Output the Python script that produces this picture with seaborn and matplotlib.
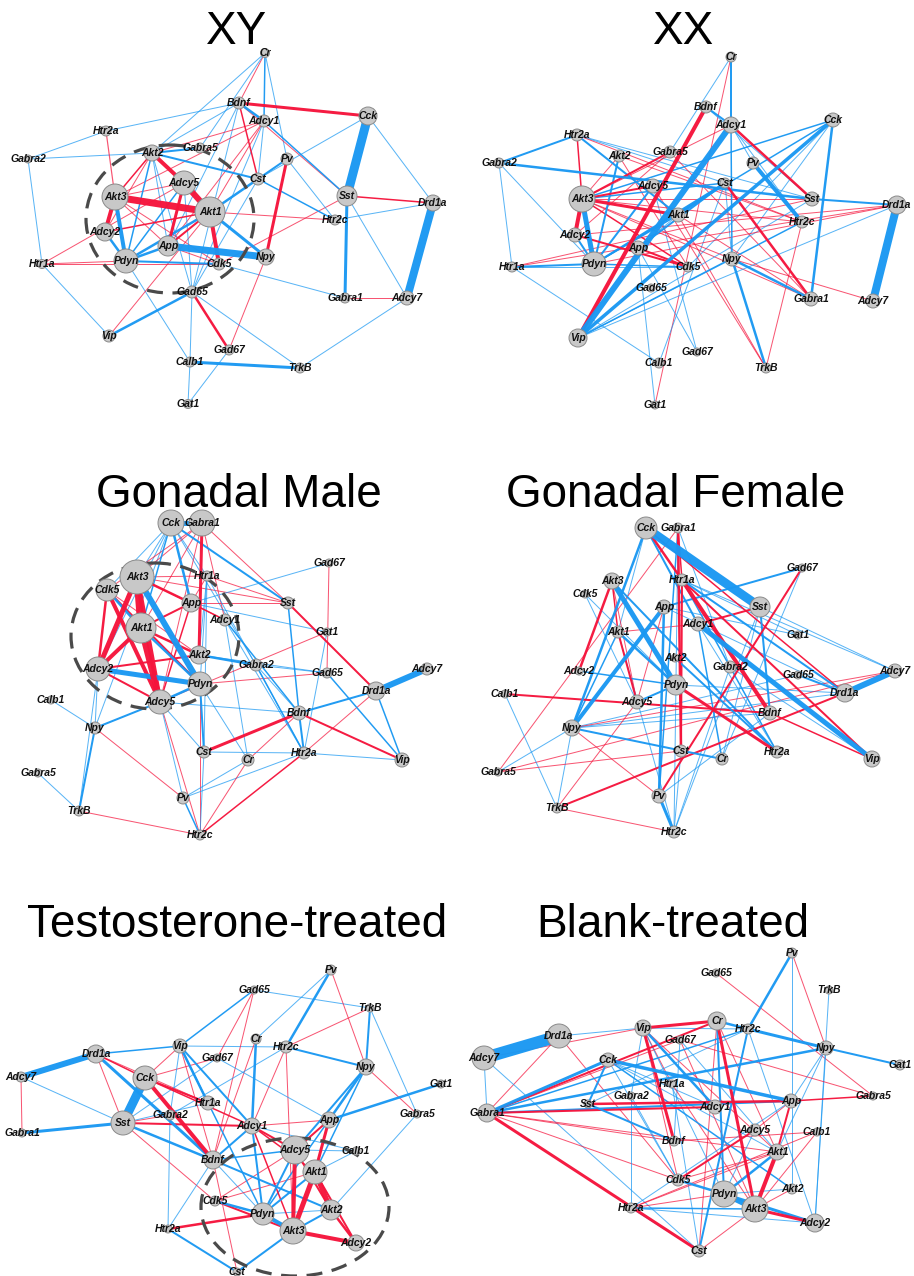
import numpy as np
import pandas as pd
import matplotlib
matplotlib.use("Agg")
import matplotlib.pyplot as plt
import seaborn as sns
from matplotlib.collections import LineCollection
from matplotlib.patches import Ellipse

sns.set_theme(style="white")
plt.rcParams['font.family'] = ['Liberation Sans', 'DejaVu Sans']

# ---------------- data ----------------
GENES = ["Cr", "Bdnf", "Adcy1", "Cck", "Htr2a", "Gabra2", "Akt2", "Gabra5", "Pv", "Adcy5",
         "Cst", "Sst", "Drd1a", "Akt3", "Akt1", "Htr2c", "Adcy2", "App", "Npy", "Htr1a",
         "Pdyn", "Cdk5", "Gad65", "Gabra1", "Adcy7", "Vip", "Gad67", "Calb1", "TrkB", "Gat1"]

TITLES = ["XY", "XX", "Gonadal Male", "Gonadal Female", "Testosterone-treated", "Blank-treated"]

# layout coordinates (pixels) and hub score (node radius) per network
XY_X = [265, 239, 264, 368, 106, 28, 152, 200, 287, 184, 258, 347, 433, 115, 210, 335, 105, 168, 266, 42, 126, 219, 192, 345, 407, 109, 229, 190, 300, 188]
XY_Y = [53, 103, 121, 116, 131, 159, 153, 148, 159, 183, 179, 196, 203, 197, 212, 220, 232, 246, 257, 264, 261, 264, 292, 298, 298, 336, 350, 362, 368, 404]
XY_HUB = [4.5, 6, 6, 9, 5, 4, 8, 5, 6, 12, 6, 10, 8, 13, 15, 5, 9, 10, 8, 4.5, 12, 6, 6, 5, 7, 6, 5, 5, 5, 4.5]

XX_X = [731, 706, 731, 833, 577, 499, 619, 670, 753, 653, 725, 812, 897, 582, 678, 802, 575, 638, 732, 512, 594, 688, 651, 811, 873, 578, 697, 659, 766, 655]
XX_Y = [57, 107, 125, 120, 135, 163, 156, 152, 163, 186, 183, 199, 205, 199, 215, 222, 235, 248, 259, 267, 264, 267, 288, 299, 301, 338, 352, 363, 368, 405]
XX_HUB = [5, 6, 8, 7, 6, 5, 6, 6, 6, 7, 5, 7, 9, 13, 7, 6, 7, 7, 7, 5, 12, 5, 4, 7, 7, 9, 4, 5, 5, 4]

GM_X = [248, 299, 225, 171, 304, 256, 199, 38, 183, 160, 204, 288, 376, 137, 141, 200, 98, 191, 95, 207, 200, 107, 327, 202, 427, 402, 329, 51, 79, 327]
GM_Y = [760, 713, 620, 523, 753, 665, 655, 773, 798, 702, 752, 603, 691, 577, 628, 835, 669, 603, 728, 576, 684, 590, 673, 523, 669, 760, 563, 700, 811, 632]
GM_HUB = [6, 7, 6, 13, 6, 6, 9, 4, 6, 12, 6, 6, 9, 17, 15, 5, 12, 9, 6, 5, 12, 11, 5, 13, 6, 7, 4, 4, 5, 4]

GF_X = [722, 770, 698, 646, 777, 730, 675, 498, 659, 637, 681, 760, 845, 612, 618, 674, 579, 664, 572, 682, 676, 585, 798, 678, 895, 872, 802, 505, 557, 798]
GF_Y = [759, 713, 624, 528, 752, 667, 658, 772, 796, 702, 751, 607, 693, 581, 632, 832, 671, 607, 728, 580, 685, 594, 675, 528, 671, 759, 568, 694, 808, 635]
GF_HUB = [6, 7, 7, 11, 6, 6, 4, 4, 7, 7, 6, 10, 9, 8, 6, 6, 4, 7, 8, 6, 10, 4, 4, 5, 7, 8, 4, 4, 5, 4]

TT_X = [256, 213, 252, 145, 168, 170, 331, 417, 331, 295, 237, 123, 96, 293, 315, 286, 356, 329, 366, 208, 263, 215, 254, 22, 21, 180, 217, 356, 370, 441]
TT_Y = [1039, 1160, 1126, 1078, 1229, 1115, 1210, 1114, 970, 1150, 1272, 1123, 1054, 1231, 1172, 1047, 1243, 1120, 1067, 1103, 1214, 1201, 990, 1133, 1077, 1046, 1058, 1151, 1008, 1084]
TT_HUB = [5, 9, 8, 12, 4, 5, 10, 4, 5, 14, 4, 12, 9, 13, 12, 6, 8, 8, 8, 7, 11, 5, 4, 4, 5, 7, 4, 4, 4, 4]

BT_X = [717, 674, 715, 608, 631, 631, 792, 873, 792, 755, 699, 588, 559, 755, 777, 748, 815, 791, 826, 672, 724, 678, 716, 487, 484, 643, 680, 817, 829, 900]
BT_Y = [1021, 1141, 1107, 1060, 1208, 1096, 1189, 1096, 953, 1130, 1251, 1104, 1036, 1209, 1152, 1029, 1223, 1101, 1048, 1084, 1194, 1180, 973, 1113, 1058, 1028, 1040, 1132, 990, 1065]
BT_HUB = [9, 5, 7, 7, 5, 4, 5, 4, 5, 6, 6, 4, 12, 13, 8, 5, 9, 7, 7, 4, 13, 6, 4, 9, 12, 8, 4, 4, 4, 5]

# edges: (gene a, gene b, signed strength); >0 red, <0 blue
XY_EDGES = [
    ("Cr", "Bdnf", 1), ("Cr", "Adcy1", -1.5), ("Cr", "Pv", -1), ("Cr", "Akt2", -1), ("Cr", "Gabra5", -1),
    ("Bdnf", "Cck", 3), ("Bdnf", "Htr2a", -1), ("Bdnf", "Adcy1", -2.5), ("Bdnf", "Cst", 1.5), ("Bdnf", "Akt2", -1),
    ("Bdnf", "Gad65", -1), ("Bdnf", "App", -1), ("Bdnf", "Sst", 1),
    ("Adcy1", "Akt2", 1), ("Adcy1", "Akt3", 1), ("Adcy1", "Akt1", 1), ("Adcy1", "App", 1), ("Adcy1", "Sst", -1.5),
    ("Adcy1", "Cst", -1), ("Adcy1", "Gad65", -1),
    ("Cck", "Sst", -9), ("Cck", "Drd1a", -1), ("Cck", "Cst", -1),
    ("Sst", "Drd1a", 1.5), ("Sst", "Gabra1", -3), ("Sst", "Adcy7", -1), ("Sst", "Cdk5", 1),
    ("Drd1a", "Adcy7", -8), ("Drd1a", "Htr2c", -1), ("Gabra1", "Adcy7", 1), ("Adcy7", "TrkB", -1),
    ("Htr2a", "Gabra2", -1), ("Htr2a", "Akt3", 1.2), ("Gabra2", "Akt2", -1), ("Gabra2", "Htr1a", -1),
    ("Akt2", "Adcy5", 4), ("Akt2", "Akt3", 1.5), ("Akt2", "Adcy2", 1), ("Akt2", "Cst", -2), ("Akt2", "App", -1),
    ("Akt2", "Gabra5", -2),
    ("Adcy5", "Akt1", 6), ("Adcy5", "App", 3), ("Adcy5", "Pdyn", -1.5), ("Adcy5", "Akt3", 1),
    ("Akt3", "Akt1", 7), ("Akt3", "Adcy2", 4), ("Akt3", "Pdyn", -4), ("Akt3", "Cdk5", 1), ("Akt3", "App", 1),
    ("Akt1", "Cdk5", 4), ("Akt1", "Npy", -3), ("Akt1", "Pdyn", -2.5), ("Akt1", "App", 2), ("Akt1", "Htr2c", 1),
    ("Akt1", "Adcy2", 1.5),
    ("App", "Npy", -7), ("App", "Pdyn", -2.5), ("Pdyn", "Cdk5", -2), ("Pdyn", "Adcy2", -2.5), ("Htr1a", "Pdyn", 1),
    ("Htr1a", "Adcy5", 1), ("Htr1a", "Cdk5", 1), ("Pdyn", "Calb1", -1), ("Pv", "Npy", 3), ("Pv", "Cst", -2),
    ("Pv", "Htr2c", -1), ("Cst", "Htr2c", -1.5), ("Cst", "Akt1", -2.5), ("Cst", "Gad65", -1), ("Cdk5", "Gabra1", -1),
    ("Npy", "Gad67", 1), ("Gad65", "Vip", -2.5), ("Gad65", "Gad67", 2.5), ("Gad65", "Calb1", -1), ("Gad65", "TrkB", -1),
    ("Vip", "Htr1a", -1), ("Vip", "Akt1", 1), ("Calb1", "TrkB", -3), ("Calb1", "Gat1", -1), ("Gat1", "Gad67", -1),
    ("Gad65", "Akt2", -1), ("Gad65", "Adcy5", -1), ("App", "Cdk5", 1), ("Pdyn", "Akt2", -1.5),
]

XX_EDGES = [
    ("Cr", "Adcy1", -2), ("Cr", "Gabra5", -1), ("Cr", "Gat1", 1), ("Bdnf", "Vip", 4), ("Bdnf", "Adcy1", -2),
    ("Adcy1", "Akt3", 1), ("Adcy1", "Vip", -6), ("Adcy1", "Sst", 2.5), ("Adcy1", "Npy", -1.5), ("Adcy1", "Htr2c", -1),
    ("Bdnf", "Sst", -1),
    ("Cck", "Akt3", -1.5), ("Cck", "Vip", -3.5), ("Cck", "Gabra1", -2.5), ("Cck", "Npy", -1), ("Cck", "Cdk5", -1),
    ("Cck", "Pdyn", -1.5),
    ("Htr2a", "Gabra2", -2), ("Htr2a", "Akt3", 1.5), ("Htr2a", "Cst", -1), ("Htr2a", "Akt1", -2), ("Htr2a", "Htr2c", 1),
    ("Htr2a", "Sst", -1),
    ("Gabra2", "Sst", -2.5), ("Gabra2", "Htr1a", -1), ("Gabra2", "Pdyn", -1),
    ("Akt2", "Pdyn", -2), ("Akt2", "Cdk5", 1), ("Akt2", "Htr2c", 1), ("Akt2", "Akt3", 1),
    ("Gabra5", "Akt3", 2), ("Gabra5", "Gabra1", 1), ("Gabra5", "Adcy2", 1),
    ("Pv", "Htr2c", -4), ("Pv", "Adcy1", -1),
    ("Cst", "Pdyn", -2), ("Cst", "Gabra1", 2.5), ("Cst", "App", -2), ("Cst", "Npy", -1), ("Cst", "Calb1", -1),
    ("Cst", "Akt3", -1.5),
    ("Adcy5", "Akt3", 2), ("Adcy5", "Pdyn", -2), ("Adcy5", "Gad67", -1), ("Adcy5", "TrkB", 1),
    ("Akt3", "Akt1", 3), ("Akt3", "Adcy2", 4), ("Akt3", "Pdyn", -5), ("Akt3", "Sst", 1), ("Akt3", "Htr2c", 1),
    ("Akt3", "Cdk5", 1.5), ("Akt3", "Npy", 1), ("Akt3", "Gabra1", 1),
    ("Adcy2", "Pdyn", -2), ("Adcy2", "Cdk5", 2), ("Adcy2", "Drd1a", 1),
    ("Htr1a", "Drd1a", 1), ("Htr1a", "Pdyn", -2), ("Htr1a", "Cdk5", -1), ("Htr1a", "Calb1", -1), ("Htr1a", "Sst", 1),
    ("App", "Cdk5", 2), ("App", "Gad67", -1), ("App", "Gat1", -1), ("App", "Akt1", -1),
    ("Npy", "TrkB", -2.5), ("Npy", "Gabra1", -2.5), ("Npy", "Adcy7", 1),
    ("Vip", "Drd1a", -1), ("Vip", "Htr2c", -1.5), ("Vip", "Npy", -1), ("Vip", "Sst", -1),
    ("Htr2c", "TrkB", 1), ("Drd1a", "Adcy7", -8), ("Sst", "Drd1a", -2), ("Akt1", "TrkB", 1), ("Akt1", "Gabra1", 1),
    ("Pdyn", "Cdk5", -1.5), ("Pdyn", "Drd1a", 1), ("Akt1", "Pdyn", -1.5), ("Akt1", "Cst", -2.5),
]

GM_EDGES = [
    ("Cck", "Gabra1", -5), ("Cck", "Sst", -2), ("Cck", "App", -2.5), ("Cck", "Akt3", -1), ("Cck", "Cdk5", -1),
    ("Cck", "Adcy2", -1), ("Cck", "Akt1", -1.5), ("Cck", "Htr1a", -1), ("Cck", "Gabra2", -1), ("Cck", "Npy", -1),
    ("Gabra1", "Akt2", 3), ("Gabra1", "Sst", 1), ("Gabra1", "Akt3", 1), ("Gabra1", "Adcy1", 1), ("Gabra1", "Akt1", 1),
    ("Gabra1", "Cdk5", 1), ("Gabra1", "Adcy5", 1),
    ("Akt3", "Akt1", 7), ("Akt3", "Adcy2", 5), ("Akt3", "Pdyn", -6), ("Akt3", "Adcy5", 5), ("Akt3", "App", 2.5),
    ("Akt3", "Htr1a", 1), ("Akt3", "Sst", 1), ("Akt3", "Adcy1", 1),
    ("Cdk5", "Adcy2", 2.5), ("Cdk5", "Akt1", -2.5), ("Cdk5", "Adcy5", 4), ("Cdk5", "Pdyn", 2), ("Cdk5", "Akt2", 1),
    ("Akt1", "Adcy5", 6), ("Akt1", "Adcy2", 4), ("Akt1", "Pdyn", -2.5), ("Akt1", "Akt2", 2.5), ("Akt1", "App", 2),
    ("Adcy2", "Pdyn", -5), ("Adcy2", "Akt2", 2), ("Adcy2", "Adcy5", 2), ("Adcy2", "Npy", -1),
    ("Pdyn", "Adcy5", -2.5), ("Pdyn", "Gad65", 1), ("Pdyn", "Htr2c", 1), ("Pdyn", "Cst", -2), ("Pdyn", "Cr", -1),
    ("Pdyn", "Htr1a", -1),
    ("Adcy5", "Bdnf", -1), ("Adcy5", "Npy", -2), ("Adcy5", "Cst", -1), ("Adcy5", "Htr2c", 1), ("Adcy5", "Pv", -1),
    ("Adcy5", "App", 1.5),
    ("Akt2", "Gabra2", -2.5), ("Akt2", "Gad65", -1), ("Akt2", "Htr1a", -1),
    ("App", "Gad67", -1), ("App", "Sst", 1), ("App", "Gat1", -1), ("App", "Adcy1", 1.5), ("App", "Htr1a", 1),
    ("Htr1a", "Sst", 1), ("Htr1a", "Cst", -1), ("Htr1a", "Htr2a", -1),
    ("Adcy1", "Cr", -1), ("Adcy1", "Bdnf", -1.5), ("Adcy1", "Htr2a", -1),
    ("Sst", "Drd1a", 2), ("Sst", "Bdnf", -1.5),
    ("Gad67", "Gad65", 1), ("Gat1", "Htr2a", -1), ("Gat1", "Adcy5", 1),
    ("Gabra2", "Htr2a", -1.5), ("Gabra2", "Bdnf", -1), ("Gabra2", "Gad65", -1),
    ("Gad65", "Vip", -1.5), ("Drd1a", "Adcy7", -6), ("Drd1a", "Bdnf", -2), ("Drd1a", "Vip", -1.5), ("Drd1a", "Htr2a", 1),
    ("Bdnf", "Cst", 3), ("Bdnf", "Vip", 2), ("Bdnf", "Htr2a", -2), ("Bdnf", "Cr", 1),
    ("Cst", "Htr2a", -1), ("Cst", "Htr2c", -1), ("Htr2a", "Vip", -1), ("Htr2a", "Pv", -1), ("Htr2a", "Htr2c", 1.5),
    ("Cr", "Htr2c", 1), ("Cr", "Pv", -1),
    ("Npy", "Pv", 1), ("Npy", "TrkB", -2), ("Npy", "Calb1", -1), ("Adcy2", "TrkB", -1), ("Gabra5", "TrkB", -1),
    ("TrkB", "Htr2c", 1), ("Pv", "Htr2c", -1.5),
]

GF_EDGES = [
    ("Cck", "Sst", -9), ("Cck", "Htr1a", 2.5), ("Htr1a", "Bdnf", 4), ("Cck", "Drd1a", 1.5), ("Htr1a", "Vip", 2),
    ("Cck", "Npy", -2.5), ("Cck", "Adcy1", -2), ("Cck", "Akt1", -1),
    ("Gabra1", "Gabra5", 1), ("Gabra1", "Cst", 2.5), ("Gabra1", "Htr2c", -1), ("Gabra1", "Htr1a", 1.5),
    ("Gabra1", "Gabra2", -1), ("Gabra1", "Pv", -1.5),
    ("Akt3", "Pdyn", -5), ("Akt3", "Adcy2", 2.5), ("Akt3", "Akt1", 1.5), ("Akt3", "Htr2a", -2), ("Akt3", "Adcy5", 1),
    ("Cdk5", "Pdyn", -1),
    ("App", "Npy", -4), ("App", "Pv", -2.5), ("App", "Adcy5", 1), ("App", "Drd1a", -1), ("Gad67", "App", -2),
    ("App", "Gat1", -1),
    ("Sst", "Adcy1", 2), ("Sst", "Bdnf", -2), ("Sst", "Adcy7", -1), ("Sst", "Cr", -1), ("Sst", "Htr2c", -1),
    ("Adcy1", "Vip", -5), ("Adcy1", "Akt1", 1), ("Adcy1", "Cr", -1.5), ("Adcy1", "Htr2a", -1),
    ("Akt1", "Pdyn", -2.5), ("Akt1", "Adcy5", 2), ("Akt1", "Npy", -1.5), ("Akt1", "Htr2c", -1),
    ("Htr1a", "Cst", 2), ("Htr1a", "Drd1a", -2), ("Htr1a", "Gat1", -1), ("Htr1a", "Adcy7", -1), ("Htr1a", "Htr2a", -1.5),
    ("Pdyn", "Htr2a", 3), ("Pdyn", "Drd1a", -1), ("Pdyn", "Adcy2", -1.5), ("Pdyn", "Adcy5", -2),
    ("Gad67", "Pv", 2), ("Gad67", "Cr", -1),
    ("Drd1a", "Adcy7", -6), ("Drd1a", "TrkB", 2), ("Drd1a", "Npy", -1), ("Gad65", "Npy", -1), ("Drd1a", "Gad65", -2),
    ("Adcy7", "Gabra5", 1), ("Adcy7", "Npy", 1),
    ("Calb1", "Bdnf", 2), ("Calb1", "TrkB", -1), ("Bdnf", "Vip", 1.5), ("Bdnf", "Npy", -1), ("Bdnf", "Pv", -1),
    ("Npy", "Cr", -2), ("Npy", "Pv", 1), ("Npy", "TrkB", -1), ("Npy", "Gabra5", -1), ("Gabra5", "Cst", 1),
    ("TrkB", "Htr2c", 1), ("TrkB", "Adcy5", 1),
    ("Pv", "Htr2c", -3), ("Cst", "Htr2c", -1), ("Htr2c", "Gabra2", -1), ("Akt2", "Htr2a", -2), ("Cdk5", "Adcy5", -1),
    ("Gabra2", "Vip", -1),
]

TT_EDGES = [
    ("Drd1a", "Adcy7", -6), ("Drd1a", "Vip", -1.5), ("Drd1a", "Sst", 1), ("Drd1a", "Cck", 1.5), ("Drd1a", "Bdnf", -3),
    ("Drd1a", "Htr1a", 1),
    ("Adcy7", "Gabra1", 1), ("Adcy7", "Sst", -1),
    ("Cck", "Sst", -9), ("Cck", "Bdnf", 4), ("Cck", "Vip", 1), ("Cck", "Gad67", 1), ("Cck", "Htr1a", 2), ("Cck", "Adcy1", 1.5),
    ("Sst", "Gabra1", -3), ("Sst", "Adcy1", 2), ("Sst", "Bdnf", -2.5), ("Sst", "Cdk5", 1), ("Sst", "Gabra2", 1),
    ("Sst", "Htr1a", -1), ("Sst", "Gad67", -1),
    ("Vip", "Gad65", -1.5), ("Vip", "Htr2c", -1), ("Vip", "Htr1a", -2.5), ("Vip", "Adcy1", -2), ("Vip", "Gabra2", -1),
    ("Vip", "Bdnf", 1), ("Vip", "Pdyn", -1.5),
    ("Gad65", "Gad67", 1), ("Gad65", "TrkB", -1), ("Gad65", "Bdnf", 1),
    ("Pv", "Htr2c", -2.5), ("Pv", "Cr", -1), ("Pv", "Npy", 1),
    ("TrkB", "Npy", -2), ("TrkB", "Htr2c", 1), ("TrkB", "Gabra5", -1),
    ("Cr", "Adcy1", -2.5), ("Cr", "Bdnf", 1),
    ("Htr2c", "Npy", -2), ("Htr2c", "Adcy1", 1), ("Htr2c", "Akt3", 1), ("Htr2c", "Gabra2", -1),
    ("Npy", "App", -2.5), ("Npy", "Adcy5", -2), ("Npy", "Gabra5", 1), ("Npy", "Akt1", -1.5),
    ("Gat1", "App", -2.5),
    ("App", "Adcy1", 1), ("App", "Akt1", 3), ("App", "Adcy5", 2), ("App", "Gad67", -1), ("App", "Pdyn", -1.5),
    ("Adcy1", "Adcy5", 2), ("Adcy1", "Akt1", 1.5), ("Adcy1", "Akt3", 1.5), ("Adcy1", "Bdnf", -2), ("Adcy1", "Calb1", -1),
    ("Adcy1", "Pdyn", -2),
    ("Gabra5", "Akt2", -1),
    ("Bdnf", "Adcy5", -1.5), ("Bdnf", "Akt2", -2), ("Bdnf", "Cst", 1), ("Bdnf", "Htr2a", -1), ("Bdnf", "Pdyn", -1),
    ("Adcy5", "Akt3", 4), ("Adcy5", "Pdyn", -2), ("Adcy5", "Cdk5", 1), ("Adcy5", "Calb1", -1), ("Adcy5", "Akt2", 2),
    ("Akt1", "Akt3", 5), ("Akt1", "Akt2", 5), ("Akt1", "Adcy2", 2), ("Akt1", "Pdyn", -2), ("Akt1", "Cdk5", 1),
    ("Akt1", "Calb1", -1),
    ("Akt2", "Akt3", -2), ("Akt2", "Pdyn", -1), ("Akt2", "Adcy2", 2.5),
    ("Cdk5", "Pdyn", -2.5), ("Cdk5", "Akt3", 2),
    ("Pdyn", "Akt3", -4), ("Pdyn", "Htr2a", 2.5),
    ("Akt3", "Adcy2", 4), ("Akt3", "Cst", -2),
    ("Htr2a", "Cst", -2), ("Htr2a", "Gabra2", -1),
]

BT_EDGES = [
    ("Drd1a", "Adcy7", -12), ("Drd1a", "Vip", -1), ("Drd1a", "Gabra1", 1), ("Drd1a", "Cdk5", 1),
    ("Adcy7", "Gabra1", -1), ("Adcy7", "Cst", -1), ("Adcy7", "Vip", 1),
    ("Vip", "Cr", 3), ("Vip", "Bdnf", 3), ("Vip", "Adcy1", -2.5), ("Vip", "Htr1a", 1), ("Vip", "Cdk5", 1),
    ("Vip", "Akt1", 1), ("Vip", "Gabra2", -1), ("Vip", "Htr2c", -1), ("Vip", "Pdyn", -1),
    ("Cr", "Htr2c", -2.5), ("Cr", "Akt3", 3), ("Cr", "Pdyn", -2), ("Cr", "Gabra1", 2), ("Cr", "Cst", 1), ("Cr", "Akt1", 1),
    ("Htr2c", "Npy", -3), ("Htr2c", "Pv", -2.5), ("Htr2c", "Cst", -2), ("Htr2c", "Sst", -1), ("Htr2c", "Adcy2", -1),
    ("Htr2c", "Gabra1", -1.5),
    ("Pv", "Npy", 1), ("Pv", "Akt2", -1), ("Gad65", "Gabra5", 1), ("TrkB", "Adcy2", -1),
    ("Npy", "Gat1", -2), ("Npy", "Gabra1", -2.5), ("Npy", "App", -1), ("Npy", "Akt1", -1), ("Npy", "Adcy2", -1),
    ("Cck", "Gabra1", -3), ("Cck", "App", -3.5), ("Cck", "Sst", -2), ("Cck", "Adcy1", -1), ("Cck", "Akt2", -1.5),
    ("Cck", "Cdk5", -1), ("Cck", "Akt1", -1),
    ("Gad67", "Gabra1", 1), ("Gad67", "Akt3", 1), ("Gad67", "Gabra5", 1), ("Gad67", "Akt1", -1), ("Gad67", "Bdnf", -1),
    ("Htr1a", "Cst", -1), ("Htr1a", "Akt3", 1),
    ("Gabra1", "App", -2), ("Gabra1", "Adcy1", 2), ("Gabra1", "Cst", 3), ("Gabra1", "Bdnf", 1), ("Gabra1", "Cdk5", 1),
    ("Gabra1", "Akt1", 1),
    ("Sst", "Bdnf", -2), ("Sst", "App", 2.5),
    ("Gabra2", "Htr2a", -1), ("Gabra2", "Cdk5", -1),
    ("App", "Gabra5", 1.5), ("App", "Akt1", 2), ("App", "Adcy5", 1), ("App", "Htr2a", -1),
    ("Adcy5", "Cdk5", 2), ("Adcy5", "Pdyn", -1),
    ("Calb1", "Htr2a", 1), ("Calb1", "Akt3", 1), ("Calb1", "Bdnf", 1),
    ("Akt1", "Akt3", 4), ("Akt1", "Pdyn", -2.5), ("Akt1", "Htr2a", 1),
    ("Cdk5", "Pdyn", -2.5), ("Cdk5", "Akt1", 1),
    ("Pdyn", "Akt3", -5), ("Pdyn", "Adcy2", -3), ("Pdyn", "Htr2a", 1), ("Pdyn", "Akt2", -1),
    ("Akt3", "Adcy2", 3), ("Akt3", "Htr2a", -1.5), ("Akt3", "Cst", 1),
    ("Akt2", "Akt3", 1), ("Htr2a", "Cst", -1), ("Adcy2", "Htr2a", -1),
]

# highlighted Akt/Adcy modules (center x, center y, width, height)
XY_MODULE = (170, 219, 168, 148)
GM_MODULE = (155, 636, 168, 146)
TT_MODULE = (295, 1207, 188, 138)

# title anchors (pixels)
TITLE_X = [237, 684, 239, 676, 237, 673]
TITLE_Y = [44, 44, 507, 507, 937, 937]

PANELS = [
    (XY_X, XY_Y, XY_HUB, XY_EDGES, XY_MODULE),
    (XX_X, XX_Y, XX_HUB, XX_EDGES, None),
    (GM_X, GM_Y, GM_HUB, GM_EDGES, GM_MODULE),
    (GF_X, GF_Y, GF_HUB, GF_EDGES, None),
    (TT_X, TT_Y, TT_HUB, TT_EDGES, TT_MODULE),
    (BT_X, BT_Y, BT_HUB, BT_EDGES, None),
]

# ---------------- drawing ----------------
W, H = 914, 1276
fig = plt.figure(figsize=(W / 100, H / 100), dpi=100)
ax = fig.add_axes([0, 0, 1, 1])
ax.set_xlim(0, W)
ax.set_ylim(H, 0)
ax.axis("off")

RED = "#F5143C"
BLUE = "#1A98F2"
PX = 0.72  # points per pixel at 100 dpi

for i, (xs, ys, hub, edges, module) in enumerate(PANELS):
    nodes = pd.DataFrame({"gene": GENES, "x": xs, "y": ys, "hub": hub})
    pos = {g: (x, y) for g, x, y in zip(nodes.gene, nodes.x, nodes.y)}

    order = sorted(edges, key=lambda e: abs(e[2]))
    segs, cols, lws = [], [], []
    for a, b, w in order:
        segs.append([pos[a], pos[b]])
        base = RED if w > 0 else BLUE
        rgba = matplotlib.colors.to_rgba(base, 0.72 if abs(w) <= 1.2 else 0.97)
        cols.append(rgba)
        lws.append(abs(w) * PX)
    lc = LineCollection(segs, colors=cols, linewidths=lws, capstyle="butt", zorder=2)
    ax.add_collection(lc)

    if module is not None:
        cx, cy, ew, eh = module
        ax.add_patch(Ellipse((cx, cy), ew, eh, fill=False, edgecolor="#4a4a4a",
                             linewidth=2.3, linestyle=(0, (5, 3)), zorder=3))

    sizes = (2 * nodes.hub * PX) ** 2
    sns.scatterplot(data=nodes, x="x", y="y", s=sizes, color="#c8c8c8",
                    edgecolor="#8a8a8a", linewidth=0.7, ax=ax, zorder=4, legend=False)

    for g, x, y in zip(nodes.gene, nodes.x, nodes.y):
        ax.text(x, y, g, ha="center", va="center", fontsize=7.5, fontweight="bold",
                fontstyle="italic", color="#111111", zorder=5)

    ax.text(TITLE_X[i], TITLE_Y[i], TITLES[i], ha="center", va="baseline",
            fontsize=33, color="black", zorder=6)

ax.set_xlim(0, W)
ax.set_ylim(H, 0)
fig.savefig("out.png", dpi=100, facecolor="white")
